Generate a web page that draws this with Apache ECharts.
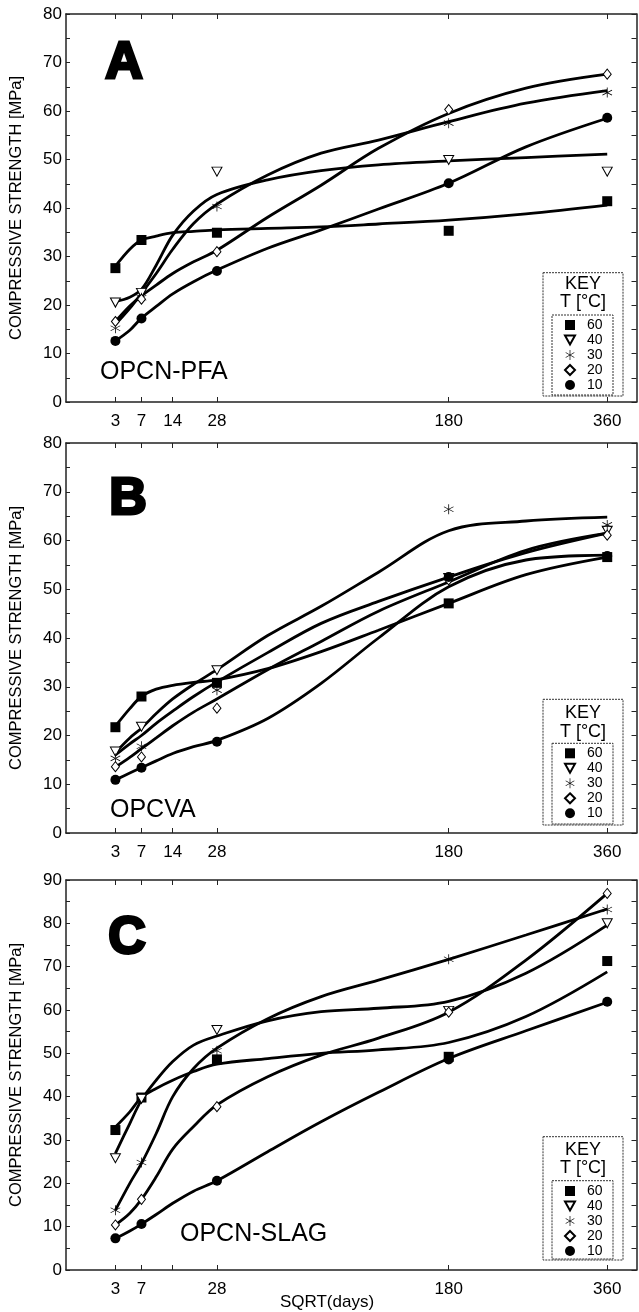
<!DOCTYPE html>
<html>
<head>
<meta charset="utf-8">
<script src="https://cdn.jsdelivr.net/npm/echarts@6/dist/echarts.min.js"></script>
<style>
  html, body { margin: 0; padding: 0; background: #fff; }
  #chart { width: 639px; height: 1312px; }
</style>
</head>
<body>
<div id="chart"></div>
<script>
// curing temperatures (legend) and the ages (days) used on the SQRT(days) axis
const tempNames = ['60', '40', '30', '20', '10'];
const tickDays = [3, 7, 14, 28, 180, 360];
const markerDays = [3, 7, 28, 180, 360];
const fitDays = [3, 5, 7, 10, 14, 20, 28, 50, 80, 120, 180, 260, 360];

// A: OPCN-PFA, measured points (MPa)
const pfa60 = [27.6, 33.4, 34.9, 35.3, 41.4];
const pfa40 = [20.5, 22.5, 47.5, 49.9, 47.5];
const pfa30 = [15.2, 21.5, 40.3, 57.5, 63.8];
const pfa20 = [16.6, 21.2, 31.0, 60.3, 67.6];
const pfa10 = [12.6, 17.2, 27.0, 45.1, 58.6];
// A: fitted curves
const fitPfa60 = [28.0, 31.5, 33.4, 34.2, 34.9, 35.2, 35.5, 35.8, 36.1, 36.7, 37.5, 38.8, 40.6];
const fitPfa40 = [20.7, 21.6, 23.2, 28.2, 34.4, 39.4, 42.8, 45.8, 47.7, 48.9, 49.7, 50.4, 51.1];
const fitPfa30 = [16.0, 19.3, 22.4, 26.5, 31.5, 36.8, 40.8, 46.8, 51.3, 54.0, 57.8, 61.6, 64.2];
const fitPfa20 = [16.6, 19.8, 21.9, 24.1, 26.5, 28.9, 31.3, 38.1, 44.7, 52.3, 59.5, 64.7, 67.6];
const fitPfa10 = [12.6, 14.8, 17.3, 19.7, 22.3, 24.8, 27.2, 31.7, 35.5, 39.8, 45.1, 52.6, 58.5];

// B: OPCVA, measured points
const vaPts60 = [21.7, 28.0, 30.8, 47.1, 56.6];
const vaPts40 = [16.7, 21.8, 33.4, 52.3, 62.0];
const vaPts30 = [15.3, 17.8, 29.3, 66.4, 63.2];
const vaPts20 = [13.6, 15.6, 25.6, 51.9, 61.1];
const vaPts10 = [10.9, 13.4, 18.7, 52.5, 56.8];
// B: fitted curves
const fitVa60 = [21.9, 25.5, 28.0, 29.5, 30.3, 30.9, 31.4, 33.7, 37.2, 41.6, 47.1, 53.0, 56.6];
const fitVa40 = [16.0, 18.3, 20.0, 22.5, 25.0, 28.0, 31.0, 37.0, 43.0, 47.5, 52.5, 57.5, 61.5];
const fitVa30 = [16.5, 19.5, 21.5, 24.5, 27.5, 30.5, 33.5, 40.5, 46.5, 53.5, 62.0, 64.0, 64.8];
const fitVa20 = [13.5, 15.5, 17.3, 19.5, 22.0, 24.8, 27.5, 33.5, 39.3, 45.5, 51.5, 58.0, 61.5];
const fitVa10 = [10.9, 12.3, 13.4, 14.8, 16.3, 17.7, 19.0, 23.5, 30.7, 40.0, 50.5, 56.0, 57.0];

// C: OPCN-SLAG, measured points
const slag60 = [32.3, 39.8, 48.6, 49.2, 71.3];
const slag40 = [25.8, 39.5, 55.4, 59.8, 80.0];
const slag30 = [13.8, 24.8, 50.6, 71.7, 83.2];
const slag20 = [10.4, 16.3, 37.7, 59.5, 86.9];
const slag10 = [7.3, 10.6, 20.6, 48.6, 61.9];
// C: fitted curves
const fitSlag60 = [33.0, 36.5, 39.8, 41.9, 43.8, 45.8, 47.5, 48.8, 50.0, 50.8, 52.5, 58.5, 68.8];
const fitSlag40 = [26.9, 33.8, 39.2, 43.8, 48.1, 51.9, 54.0, 57.5, 59.6, 60.4, 62.0, 68.5, 79.6];
const fitSlag30 = [13.8, 20.0, 24.6, 31.5, 40.0, 46.5, 51.2, 58.0, 63.1, 66.9, 71.7, 77.3, 83.3];
const fitSlag20 = [10.4, 13.1, 16.3, 21.5, 27.9, 33.1, 38.1, 44.6, 49.6, 53.5, 59.5, 71.5, 86.9];
const fitSlag10 = [7.3, 9.0, 10.6, 12.8, 15.4, 18.2, 20.6, 27.3, 34.2, 41.0, 48.8, 55.2, 61.8];

const FONT = '"Liberation Sans", Arial, sans-serif';
// six-armed asterisk marker
const ASTERISK = 'path://M9.3 0L10.7 0L10.7 20L9.3 20Z' +
  'M1.69 15.61L19.01 5.61L18.31 4.39L0.99 14.39Z' +
  'M0.99 5.61L18.31 15.61L19.01 14.39L1.69 4.39Z';
const TRI_DOWN = 'path://M0 0L10 0L5 9Z';

const markStyle = {
  '60': { symbol: 'rect', size: 10, fill: '#000', border: 0 },
  '40': { symbol: TRI_DOWN, size: [10, 9], fill: '#fff', border: 1 },
  '30': { symbol: ASTERISK, size: 10, fill: '#000', border: 0 },
  '20': { symbol: 'diamond', size: [8, 10], fill: '#fff', border: 1 },
  '10': { symbol: 'circle', size: 10, fill: '#000', border: 0 }
};

const panels = [
  { top: 14, height: 388, yMax: 80, labelDays: tickDays,
    points: [pfa60, pfa40, pfa30, pfa20, pfa10],
    fits: [fitPfa60, fitPfa40, fitPfa30, fitPfa20, fitPfa10],
    letter: 'A', letterPos: [124, 64], name: 'OPCN-PFA', namePos: [100, 372],
    box: [272.7, 396], inner: [315, 395], keyY: [284, 302], legendTop: 318 },
  { top: 443, height: 390, yMax: 80, labelDays: tickDays,
    points: [vaPts60, vaPts40, vaPts30, vaPts20, vaPts10],
    fits: [fitVa60, fitVa40, fitVa30, fitVa20, fitVa10],
    letter: 'B', letterPos: [128, 500], name: 'OPCVA', namePos: [110, 810],
    box: [699.3, 825], inner: [743.3, 824], keyY: [712.7, 731.7], legendTop: 746.3 },
  { top: 880, height: 390, yMax: 90, labelDays: [3, 7, 28, 180, 360],
    points: [slag60, slag40, slag30, slag20, slag10],
    fits: [fitSlag60, fitSlag40, fitSlag30, fitSlag20, fitSlag10],
    letter: 'C', letterPos: [127, 939], name: 'OPCN-SLAG', namePos: [180, 1234],
    box: [1136.7, 1260], inner: [1180.7, 1259], keyY: [1150, 1168.3], legendTop: 1184 }
];

const axisLine = { show: true, onZero: false, lineStyle: { color: '#222', width: 1.5 } };
const grid = [], xAxis = [], yAxis = [], series = [], legend = [], graphic = [];

panels.forEach((p, gi) => {
  grid.push({ left: 63.5, top: p.top, width: 573, height: p.height });
  const tickPos = tickDays.map(Math.sqrt);
  xAxis.push({
    gridIndex: gi, type: 'value', min: 0, max: 20, position: 'bottom',
    axisLine: axisLine,
    axisTick: { inside: true, length: 5, customValues: tickPos, lineStyle: { color: '#222', width: 1 } },
    axisLabel: {
      customValues: p.labelDays.map(Math.sqrt),
      formatter: v => String(Math.round(v * v)),
      fontSize: 17, color: '#000', fontFamily: FONT, margin: 11
    },
    splitLine: { show: false }
  });
  xAxis.push({
    gridIndex: gi, type: 'value', min: 0, max: 20, position: 'top',
    axisLine: axisLine,
    axisTick: { inside: true, length: 5, customValues: tickPos, lineStyle: { color: '#222', width: 1 } },
    axisLabel: { show: false }, splitLine: { show: false }
  });
  yAxis.push({
    gridIndex: gi, type: 'value', min: 0, max: p.yMax, interval: 5, position: 'left',
    axisLine: axisLine,
    axisTick: { inside: true, length: 4, lineStyle: { color: '#222' } },
    axisLabel: {
      formatter: v => (v % 10 === 0 ? String(v) : ''),
      fontSize: 17, color: '#000', fontFamily: FONT, margin: 4
    },
    splitLine: { show: false },
    name: 'COMPRESSIVE STRENGTH [MPa]', nameLocation: 'middle', nameGap: 41,
    nameTextStyle: { fontSize: 16.5, color: '#000', fontFamily: FONT }
  });
  yAxis.push({
    gridIndex: gi, type: 'value', min: 0, max: p.yMax, interval: 5, position: 'right',
    axisLine: axisLine,
    axisTick: { inside: true, length: 5, lineStyle: { color: '#222' } },
    axisLabel: { show: false }, splitLine: { show: false }
  });

  tempNames.forEach((t, k) => {
    const m = markStyle[t];
    series.push({
      type: 'line', name: 'fit ' + t, xAxisIndex: gi * 2, yAxisIndex: gi * 2,
      data: fitDays.map((d, j) => [Math.sqrt(d), p.fits[k][j]]),
      smooth: 0.35, symbol: 'none', silent: true, z: 2,
      lineStyle: { color: '#000', width: 2.8 }
    });
    series.push({
      type: 'scatter', name: t, xAxisIndex: gi * 2, yAxisIndex: gi * 2,
      data: markerDays.map((d, j) => [Math.sqrt(d), p.points[k][j]]),
      symbol: m.symbol, symbolSize: m.size, z: 3,
      itemStyle: { color: m.fill, borderColor: '#000', borderWidth: m.border, opacity: 1 }
    });
  });

  legend.push({
    orient: 'vertical', left: 564, top: p.legendTop, padding: 0,
    itemWidth: 10, itemHeight: 10, itemGap: 1,
    selectedMode: false, data: tempNames,
    textStyle: { fontSize: 14, color: '#000', fontFamily: FONT, padding: [0, 0, 0, 7] }
  });

  const dash = { fill: 'none', stroke: '#333', lineWidth: 1, lineDash: [2, 1] };
  graphic.push(
    { type: 'rect', shape: { x: 543, y: p.box[0], width: 80, height: p.box[1] - p.box[0] }, style: dash, z: 10 },
    { type: 'rect', shape: { x: 552, y: p.inner[0], width: 61, height: p.inner[1] - p.inner[0] }, style: dash, z: 10 },
    { type: 'text', x: 583, y: p.keyY[0], style: { text: 'KEY', font: '18px ' + FONT, fill: '#000', align: 'center', verticalAlign: 'middle' }, z: 10 },
    { type: 'text', x: 583, y: p.keyY[1], style: { text: 'T [°C]', font: '18px ' + FONT, fill: '#000', align: 'center', verticalAlign: 'middle' }, z: 10 },
    { type: 'text', x: p.letterPos[0], y: p.letterPos[1], style: { text: p.letter, font: 'bold 52px ' + FONT, fill: '#000', stroke: '#000', lineWidth: 3, align: 'center', verticalAlign: 'middle' }, z: 10 },
    { type: 'text', x: p.namePos[0], y: p.namePos[1], style: { text: p.name, font: '25px ' + FONT, fill: '#000', align: 'left', verticalAlign: 'middle' }, z: 10 }
  );
});

graphic.push({ type: 'text', x: 327, y: 1302, style: { text: 'SQRT(days)', font: '17px ' + FONT, fill: '#000', align: 'center', verticalAlign: 'middle' }, z: 10 });

const chart = echarts.init(document.getElementById('chart'));
chart.setOption({
  animation: false,
  backgroundColor: '#fff',
  grid: grid,
  xAxis: xAxis,
  yAxis: yAxis,
  legend: legend,
  series: series,
  graphic: graphic
});
</script>
</body>
</html>
